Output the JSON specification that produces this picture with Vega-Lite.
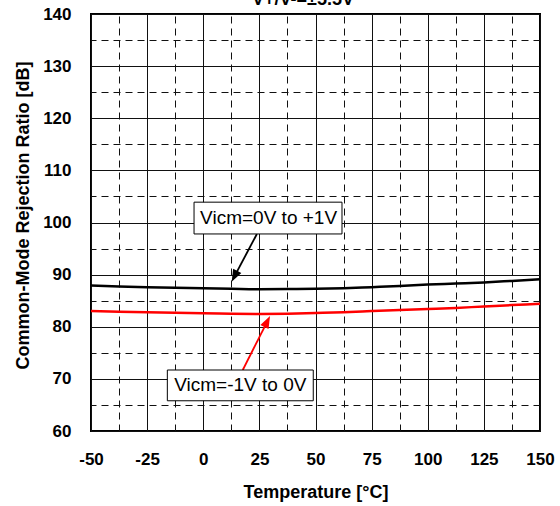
{
  "$schema": "https://vega.github.io/schema/vega-lite/v6.json",
  "width": 449,
  "height": 417,
  "autosize": {"type": "none"},
  "padding": {"left": 91, "top": 14, "right": 20, "bottom": 75},
  "background": "white",
  "config": {
    "view": {"stroke": "black", "strokeWidth": 2},
    "axis": {"labelFont": "Liberation Sans", "titleFont": "Liberation Sans", "labelFontSize": 17, "titleFontSize": 18, "labelFontWeight": "bold", "titleFontWeight": "bold", "labelColor": "black", "titleColor": "black", "domain": false, "ticks": false, "gridColor": "#111", "gridWidth": 1, "gridOpacity": 1}
  },
  "resolve": {"axis": {"x": "independent", "y": "independent"}},
  "datasets": {
    "curves": [
      {"series": "Vicm=0V to +1V", "t": -50, "v": 87.9},
      {"series": "Vicm=0V to +1V", "t": -37.5, "v": 87.7},
      {"series": "Vicm=0V to +1V", "t": -25, "v": 87.6},
      {"series": "Vicm=0V to +1V", "t": -12.5, "v": 87.5},
      {"series": "Vicm=0V to +1V", "t": 0, "v": 87.4},
      {"series": "Vicm=0V to +1V", "t": 12.5, "v": 87.3},
      {"series": "Vicm=0V to +1V", "t": 25, "v": 87.2},
      {"series": "Vicm=0V to +1V", "t": 37.5, "v": 87.25},
      {"series": "Vicm=0V to +1V", "t": 50, "v": 87.3},
      {"series": "Vicm=0V to +1V", "t": 62.5, "v": 87.4},
      {"series": "Vicm=0V to +1V", "t": 75, "v": 87.6},
      {"series": "Vicm=0V to +1V", "t": 87.5, "v": 87.8},
      {"series": "Vicm=0V to +1V", "t": 100, "v": 88.1},
      {"series": "Vicm=0V to +1V", "t": 112.5, "v": 88.3},
      {"series": "Vicm=0V to +1V", "t": 125, "v": 88.5},
      {"series": "Vicm=0V to +1V", "t": 137.5, "v": 88.8},
      {"series": "Vicm=0V to +1V", "t": 150, "v": 89.1},
      {"series": "Vicm=-1V to 0V", "t": -50, "v": 83.0},
      {"series": "Vicm=-1V to 0V", "t": -37.5, "v": 82.9},
      {"series": "Vicm=-1V to 0V", "t": -25, "v": 82.8},
      {"series": "Vicm=-1V to 0V", "t": -12.5, "v": 82.7},
      {"series": "Vicm=-1V to 0V", "t": 0, "v": 82.6},
      {"series": "Vicm=-1V to 0V", "t": 12.5, "v": 82.5},
      {"series": "Vicm=-1V to 0V", "t": 25, "v": 82.45},
      {"series": "Vicm=-1V to 0V", "t": 37.5, "v": 82.5},
      {"series": "Vicm=-1V to 0V", "t": 50, "v": 82.65},
      {"series": "Vicm=-1V to 0V", "t": 62.5, "v": 82.8},
      {"series": "Vicm=-1V to 0V", "t": 75, "v": 83.0},
      {"series": "Vicm=-1V to 0V", "t": 87.5, "v": 83.2},
      {"series": "Vicm=-1V to 0V", "t": 100, "v": 83.4},
      {"series": "Vicm=-1V to 0V", "t": 112.5, "v": 83.6},
      {"series": "Vicm=-1V to 0V", "t": 125, "v": 83.9},
      {"series": "Vicm=-1V to 0V", "t": 137.5, "v": 84.15},
      {"series": "Vicm=-1V to 0V", "t": 150, "v": 84.4}
    ],
    "labels": [
      {"series": "Vicm=0V to +1V", "t": -4.1, "t2": 61.8, "v": 97.8, "v2": 103.9, "tc": 29.1, "vc": 100.85, "at": 23.9, "av": 97.8, "ht": 13.9, "hv": 89.66},
      {"series": "Vicm=-1V to 0V", "t": -16.0, "t2": 49.0, "v": 65.8, "v2": 71.7, "tc": 16.5, "vc": 68.75, "at": 17.6, "av": 71.7, "ht": 28.5, "hv": 81.0}
    ],
    "heading": [
      {"text": "V+/V-=±5.5V", "t": 44.4, "v": 141.7}
    ]
  },
  "layer": [
    {
      "data": {"name": "curves"},
      "mark": {"type": "line", "opacity": 0},
      "encoding": {
        "x": {"field": "t", "type": "quantitative",
          "scale": {"domain": [-50, 150], "nice": false, "zero": false},
          "axis": {"orient": "top", "values": [-37.5, -12.5, 12.5, 37.5, 62.5, 87.5, 112.5, 137.5], "labels": false, "title": null, "grid": true, "gridDash": [7, 5]}},
        "y": {"field": "v", "type": "quantitative",
          "scale": {"domain": [60, 140], "nice": false, "zero": false},
          "axis": {"orient": "right", "values": [65, 75, 85, 95, 105, 115, 125, 135], "labels": false, "title": null, "grid": true, "gridDash": [7, 5]}}
      }
    },
    {
      "data": {"name": "curves"},
      "mark": {"type": "line", "strokeWidth": 2.5, "interpolate": "monotone"},
      "encoding": {
        "x": {"field": "t", "type": "quantitative", "title": "Temperature [°C]",
          "axis": {"orient": "bottom", "grid": true, "values": [-50, -25, 0, 25, 50, 75, 100, 125, 150],
            "labelExpr": "'' + datum.value",
            "labelPadding": 20, "labelFlush": false,
            "titleBaseline": "alphabetic", "titleY": 66}},
        "y": {"field": "v", "type": "quantitative", "title": "Common-Mode Rejection Ratio [dB]",
          "axis": {"orient": "left", "grid": true, "values": [60, 70, 80, 90, 100, 110, 120, 130, 140],
            "labelExpr": "'' + datum.value",
            "labelPadding": 20, "labelFlush": false,
            "titleBaseline": "alphabetic", "titleX": -63, "titleY": 201, "titleAlign": "center"}},
        "color": {"field": "series", "type": "nominal", "legend": null,
          "scale": {"domain": ["Vicm=0V to +1V", "Vicm=-1V to 0V"], "range": ["#000000", "#ff0000"]}}
      }
    },
    {
      "data": {"name": "labels"},
      "mark": {"type": "rule", "strokeWidth": 1.8},
      "encoding": {
        "x": {"field": "at", "type": "quantitative", "axis": null},
        "y": {"field": "av", "type": "quantitative", "axis": null},
        "x2": {"field": "ht"},
        "y2": {"field": "hv"},
        "color": {"field": "series", "type": "nominal", "legend": null}
      }
    },
    {
      "data": {"name": "labels"},
      "transform": [{"filter": "datum.series === 'Vicm=0V to +1V'"}],
      "mark": {"type": "point", "shape": "M0,-1L0.75,1L-0.75,1Z", "filled": true, "size": 150, "angle": 207, "opacity": 1},
      "encoding": {
        "x": {"field": "ht", "type": "quantitative", "axis": null},
        "y": {"field": "hv", "type": "quantitative", "axis": null},
        "color": {"field": "series", "type": "nominal", "legend": null}
      }
    },
    {
      "data": {"name": "labels"},
      "transform": [{"filter": "datum.series === 'Vicm=-1V to 0V'"}],
      "mark": {"type": "point", "shape": "M0,-1L0.75,1L-0.75,1Z", "filled": true, "size": 150, "angle": 27, "opacity": 1},
      "encoding": {
        "x": {"field": "ht", "type": "quantitative", "axis": null},
        "y": {"field": "hv", "type": "quantitative", "axis": null},
        "color": {"field": "series", "type": "nominal", "legend": null}
      }
    },
    {
      "data": {"name": "labels"},
      "mark": {"type": "rect", "fill": "white", "stroke": "black", "strokeWidth": 1},
      "encoding": {
        "x": {"field": "t", "type": "quantitative", "axis": null},
        "x2": {"field": "t2"},
        "y": {"field": "v", "type": "quantitative", "axis": null},
        "y2": {"field": "v2"}
      }
    },
    {
      "data": {"name": "labels"},
      "mark": {"type": "text", "font": "Liberation Sans", "fontSize": 19, "color": "black", "align": "center", "baseline": "middle"},
      "encoding": {
        "x": {"field": "tc", "type": "quantitative", "axis": null},
        "y": {"field": "vc", "type": "quantitative", "axis": null},
        "text": {"field": "series"}
      }
    },
    {
      "data": {"name": "heading"},
      "mark": {"type": "text", "font": "Liberation Sans", "fontSize": 18, "fontWeight": "bold", "color": "black", "align": "center", "baseline": "alphabetic", "clip": false},
      "encoding": {
        "x": {"field": "t", "type": "quantitative", "axis": null},
        "y": {"field": "v", "type": "quantitative", "axis": null},
        "text": {"field": "text"}
      }
    }
  ]
}
